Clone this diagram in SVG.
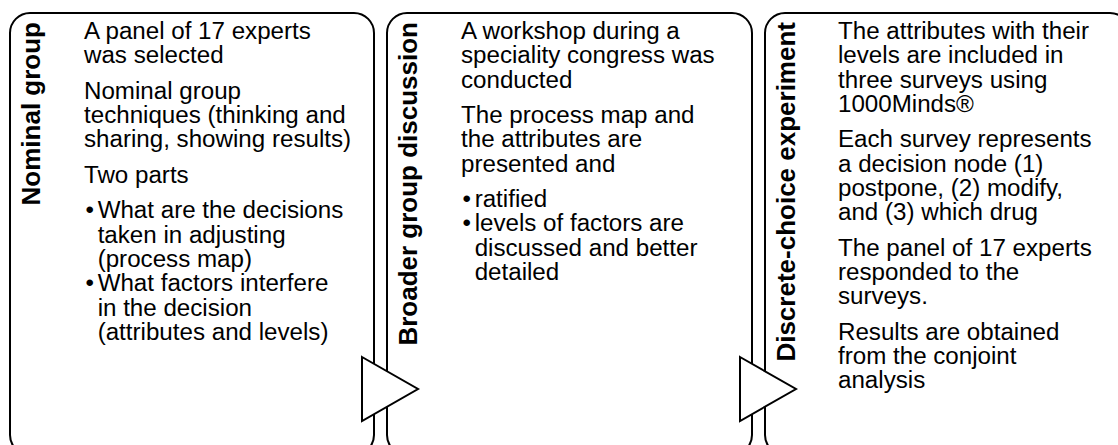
<svg xmlns="http://www.w3.org/2000/svg" width="1118" height="445" viewBox="0 0 1118 445">
<style>
.panel{fill:#fff;stroke:#000;stroke-width:2}
.tri{fill:#fff;stroke:#000;stroke-width:2;stroke-linejoin:miter}
.title{font-family:"Liberation Sans",Arial,sans-serif;font-weight:bold;font-size:26px;fill:#000}
.body{font-family:"Liberation Sans",Arial,sans-serif;font-size:23px;fill:#000}
</style>
<rect width="1118" height="445" fill="#fff"/>
<g id="panel-nominal">
<rect class="panel" x="10" y="13" width="364" height="442" rx="20" ry="20"/>
<text class="title" transform="translate(40,22) rotate(-90)" text-anchor="end">Nominal group</text>
<g class="body" transform="translate(84,0) scale(1.05,1)">
<text y="39">A panel of 17 experts</text>
<text y="63.3">was selected</text>
<text y="98.8">Nominal group</text>
<text y="123.1">techniques (thinking and</text>
<text y="147.4">sharing, showing results)</text>
<text y="182.9">Two parts</text>
<text y="218.4"><tspan x="1.5">•</tspan><tspan x="13">What are the decisions</tspan></text>
<text x="13" y="242.7">taken in adjusting</text>
<text x="13" y="267">(process map)</text>
<text y="291.3"><tspan x="1.5">•</tspan><tspan x="13">What factors interfere</tspan></text>
<text x="13" y="315.6">in the decision</text>
<text x="13" y="339.9">(attributes and levels)</text>
</g>
</g>
<g id="panel-broader">
<rect class="panel" x="387" y="13" width="365" height="442" rx="20" ry="20"/>
<text class="title" transform="translate(417,22) rotate(-90)" text-anchor="end">Broader group discussion</text>
<g class="body" transform="translate(461,0) scale(1.05,1)">
<text y="39">A workshop during a</text>
<text y="63.3">speciality congress was</text>
<text y="87.6">conducted</text>
<text y="123.1">The process map and</text>
<text y="147.4">the attributes are</text>
<text y="171.7">presented and</text>
<text y="207.2"><tspan x="1.5">•</tspan><tspan x="13">ratified</tspan></text>
<text y="231.5"><tspan x="1.5">•</tspan><tspan x="13">levels of factors are</tspan></text>
<text x="13" y="255.8">discussed and better</text>
<text x="13" y="280.1">detailed</text>
</g>
</g>
<g id="panel-dce">
<rect class="panel" x="765" y="13" width="365" height="442" rx="20" ry="20"/>
<text class="title" transform="translate(795,22) rotate(-90)" text-anchor="end">Discrete-choice experiment</text>
<g class="body" transform="translate(838,0) scale(1.05,1)">
<text y="39">The attributes with their</text>
<text y="63.3">levels are included in</text>
<text y="87.6">three surveys using</text>
<text y="111.9">1000Minds®</text>
<text y="147.4">Each survey represents</text>
<text y="171.7">a decision node (1)</text>
<text y="196">postpone, (2) modify,</text>
<text y="220.3">and (3) which drug</text>
<text y="255.8">The panel of 17 experts</text>
<text y="280.1">responded to the</text>
<text y="304.4">surveys.</text>
<text y="339.9">Results are obtained</text>
<text y="364.2">from the conjoint</text>
<text y="388.5">analysis</text>
</g>
</g>
<g id="connectors">
<polygon class="tri" points="362,357 418,389 362,421"/>
<polygon class="tri" points="740,357 796,389 740,421"/>
</g>
</svg>
